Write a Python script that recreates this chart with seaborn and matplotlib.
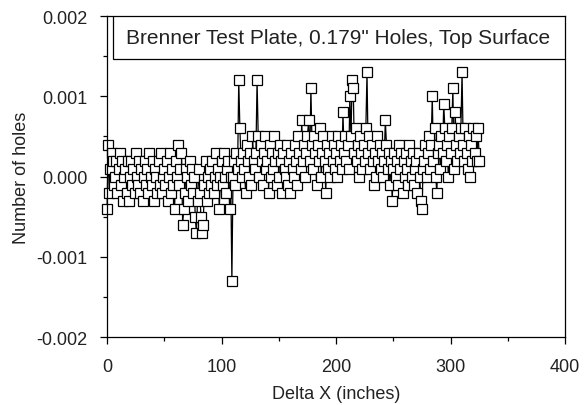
import numpy as np
import pandas as pd
import matplotlib
matplotlib.use("Agg")
import matplotlib.pyplot as plt
from matplotlib.patches import Rectangle
from matplotlib.ticker import MultipleLocator, FormatStrFormatter
import seaborn as sns

title_text = 'Brenner Test Plate, 0.179" Holes, Top Surface'
x_label = "Delta X (inches)"
y_label = "Number of holes"

delta_x = np.arange(0, 326)
holes = [
    -0.0004, 0.0004, -0.0002, 0.0001, 0.0003, 0.0002, -0.0001, 0.0000, 0.0002, -0.0002,
    0.0001, 0.0003, -0.0001, 0.0002, -0.0003, 0.0000, 0.0001, -0.0002, 0.0002, -0.0003,
    0.0000, 0.0002, -0.0001, 0.0001, -0.0002, 0.0003, 0.0000, -0.0001, 0.0002, -0.0002,
    0.0001, -0.0003, 0.0000, 0.0002, -0.0001, 0.0001, -0.0002, 0.0003, 0.0000, -0.0001,
    0.0002, -0.0003, 0.0001, 0.0000, -0.0002, 0.0002, -0.0001, 0.0003, -0.0002, 0.0000,
    0.0001, -0.0001, 0.0002, -0.0003, 0.0000, 0.0003, -0.0002, 0.0001, -0.0001, -0.0004,
    0.0002, 0.0000, 0.0004, -0.0001, 0.0001, 0.0003, -0.0006, -0.0004, -0.0002, 0.0001,
    0.0000, -0.0003, 0.0002, -0.0001, 0.0001, -0.0002, 0.0000, -0.0005, -0.0007, -0.0003,
    0.0001, -0.0002, -0.0005, -0.0007, -0.0006, -0.0001, 0.0002, -0.0003, 0.0000, -0.0002,
    0.0001, -0.0001, 0.0002, -0.0002, 0.0000, 0.0003, -0.0001, 0.0001, -0.0004, 0.0000,
    0.0002, -0.0001, 0.0003, 0.0000, -0.0002, 0.0001, 0.0002, -0.0004, 0.0000, -0.0013,
    0.0000, 0.0002, -0.0001, 0.0003, 0.0001, 0.0012, 0.0006, 0.0002, 0.0000, 0.0003,
    0.0001, -0.0002, 0.0004, 0.0002, 0.0000, 0.0003, -0.0001, 0.0005, 0.0002, 0.0001,
    0.0003, 0.0012, 0.0005, 0.0000, 0.0004, 0.0002, -0.0001, 0.0003, 0.0005, 0.0001,
    0.0002, -0.0002, 0.0004, 0.0000, 0.0003, 0.0001, 0.0005, 0.0002, -0.0001, 0.0003,
    0.0000, 0.0004, 0.0002, -0.0002, 0.0003, 0.0001, 0.0000, 0.0004, -0.0001, 0.0002,
    -0.0002, 0.0003, 0.0001, 0.0000, 0.0004, 0.0002, -0.0001, 0.0005, 0.0003, 0.0001,
    0.0007, 0.0002, 0.0004, 0.0000, 0.0003, 0.0005, 0.0007, 0.0002, 0.0011, 0.0004,
    0.0001, 0.0005, 0.0003, -0.0001, 0.0004, 0.0002, 0.0006, 0.0000, 0.0003, 0.0005,
    0.0002, -0.0002, 0.0004, 0.0001, 0.0003, 0.0000, 0.0005, 0.0002, 0.0004, 0.0001,
    0.0003, 0.0000, 0.0005, 0.0002, 0.0004, 0.0001, 0.0008, 0.0003, 0.0005, 0.0002,
    0.0004, 0.0001, 0.0010, 0.0005, 0.0012, 0.0011, 0.0003, 0.0006, 0.0002, 0.0004,
    0.0000, 0.0005, 0.0003, 0.0001, 0.0004, 0.0002, 0.0006, 0.0013, 0.0003, 0.0005,
    0.0001, 0.0004, 0.0002, -0.0001, 0.0003, 0.0000, 0.0005, 0.0002, 0.0004, 0.0001,
    0.0003, 0.0000, 0.0002, 0.0007, 0.0004, 0.0001, 0.0003, -0.0001, 0.0002, -0.0003,
    0.0001, 0.0003, 0.0000, 0.0002, -0.0001, 0.0004, 0.0001, 0.0003, -0.0002, 0.0002,
    0.0000, 0.0003, 0.0001, -0.0001, 0.0004, 0.0002, 0.0000, 0.0003, -0.0001, 0.0001,
    0.0002, -0.0002, 0.0003, 0.0000, -0.0003, -0.0004, 0.0001, 0.0002, 0.0004, 0.0000,
    0.0003, 0.0005, 0.0001, 0.0004, 0.0010, 0.0002, 0.0006, 0.0000, -0.0002, 0.0003,
    0.0004, 0.0001, 0.0005, 0.0003, 0.0009, 0.0006, 0.0002, 0.0004, 0.0000, 0.0005,
    0.0003, 0.0006, 0.0011, 0.0001, 0.0008, 0.0004, 0.0002, 0.0005, 0.0003, 0.0006,
    0.0013, 0.0004, 0.0002, 0.0006, 0.0003, 0.0001, 0.0005, 0.0000, 0.0004, 0.0002,
    0.0006, 0.0003, 0.0005, 0.0002, 0.0006, 0.0002,
]

df = pd.DataFrame({"dx": delta_x, "holes": holes})

sns.set_style("ticks")
plt.rcParams["font.family"] = ["Liberation Sans", "DejaVu Sans"]

fig = plt.figure(figsize=(5.85, 4.06), dpi=100)
ax = fig.add_axes([0.183, 0.167, 0.783, 0.791])

sns.lineplot(data=df, x="dx", y="holes", ax=ax, estimator=None, sort=False,
             color="black", linewidth=0.9, marker="s", markersize=6.8,
             markerfacecolor="white", markeredgecolor="black", markeredgewidth=0.9)
for ln in ax.lines:
    ln.set_clip_on(False)

ax.set_xlim(0, 400)
ax.set_ylim(-0.002, 0.002)
ax.xaxis.set_major_locator(MultipleLocator(100))
ax.xaxis.set_minor_locator(MultipleLocator(50))
ax.yaxis.set_major_locator(MultipleLocator(0.001))
ax.yaxis.set_minor_locator(MultipleLocator(0.0005))
ax.yaxis.set_major_formatter(FormatStrFormatter("%.3f"))
ax.tick_params(which="major", direction="out", length=5, width=0.9, labelsize=13,
               color="black", labelcolor="#222222")
ax.tick_params(axis="x", which="major", pad=10)
ax.tick_params(axis="y", which="major", pad=9)
ax.tick_params(which="minor", direction="out", length=3, width=0.9, color="black")
for s in ax.spines.values():
    s.set_visible(True)
    s.set_linewidth(0.9)
    s.set_color("black")

ax.set_xlabel(x_label, fontsize=13, labelpad=7, color="#222222")
ax.set_ylabel(y_label, fontsize=13, labelpad=5, color="#222222")

ax.add_patch(Rectangle((0.013, 0.866), 0.987, 0.134, transform=ax.transAxes,
                       facecolor="white", edgecolor="black", linewidth=0.9, zorder=5))
ax.text(0.505, 0.933, title_text, transform=ax.transAxes, ha="center", va="center",
        fontsize=15, color="#222222", zorder=6)

fig.savefig("out.png", dpi=100)
